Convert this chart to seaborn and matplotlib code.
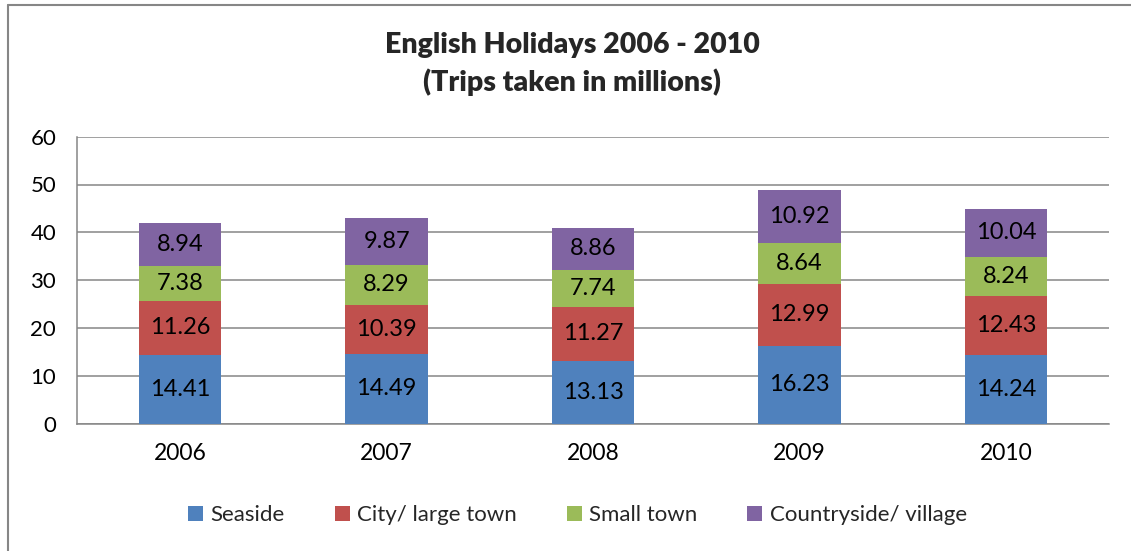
import numpy as np
import pandas as pd
import matplotlib
matplotlib.use("Agg")
import matplotlib.pyplot as plt
from matplotlib.lines import Line2D
import seaborn as sns

years = ["2006", "2007", "2008", "2009", "2010"]
series_names = ["Seaside", "City/ large town", "Small town", "Countryside/ village"]
seaside = [14.41, 14.49, 13.13, 16.23, 14.24]
city = [11.26, 10.39, 11.27, 12.99, 12.43]
small_town = [7.38, 8.29, 7.74, 8.64, 8.24]
countryside = [8.94, 9.87, 8.86, 10.92, 10.04]
colors = ["#4F81BD", "#C0504D", "#9BBB59", "#8064A2"]
y_ticks = [0, 10, 20, 30, 40, 50, 60]
title = "English Holidays 2006 - 2010\n(Trips taken in millions)"

sns.set_theme(style="white")
plt.rcParams["font.family"] = ["Lato", "DejaVu Sans"]

values = [seaside, city, small_town, countryside]
df = pd.DataFrame({"Year": years})
for name, v in zip(series_names, values):
    df[name] = v
cum = df[series_names].cumsum(axis=1)

fig = plt.figure(figsize=(11.31, 5.51), dpi=100)
W, H = 1131, 551
ax = fig.add_axes([77 / W, 1 - 423.5 / H, (1109 - 77) / W, (423.5 - 136.7) / H])

# draw cumulative totals from top series down so each visible segment is a stack part
for i in range(len(series_names) - 1, -1, -1):
    name = series_names[i]
    sns.barplot(data=cum.assign(Year=df["Year"]), x="Year", y=name, color=colors[i],
                width=0.4, saturation=1, ax=ax, zorder=3, linewidth=0)

# segment labels
for i, name in enumerate(series_names):
    for j in range(len(years)):
        top = cum[name].iloc[j]
        v = df[name].iloc[j]
        ax.text(j, top - v / 2, f"{v:.2f}", ha="center", va="center",
                fontsize=17, color="black", zorder=5)

ax.set_xlim(-0.5, len(years) - 0.5)
ax.set_ylim(0, 60)
ax.set_yticks(y_ticks)
ax.set_yticklabels([str(t) for t in y_ticks])
ax.set_xlabel("")
ax.set_ylabel("")
ax.grid(axis="y", color="#868686", linewidth=1.1, zorder=0)
ax.grid(axis="x", visible=False)
ax.set_axisbelow(True)
for s in ["top", "right"]:
    ax.spines[s].set_visible(False)
for s in ["left", "bottom"]:
    ax.spines[s].set_color("#868686")
    ax.spines[s].set_linewidth(1.1)
ax.set_xticks(np.arange(-0.5, len(years), 1.0), minor=True)
ax.tick_params(axis="x", which="major", length=0, pad=14, labelsize=16.5, colors="black")
ax.tick_params(axis="x", which="minor", length=7, width=1.1, color="#868686", direction="out")
ax.tick_params(axis="y", which="major", length=7, width=1.1, color="#868686", direction="out",
               pad=8, labelsize=16, labelcolor="black")

fig.text(572 / W, 1 - 64 / H, title, ha="center", va="center",
         fontsize=20.5, fontweight="heavy", linespacing=1.5)

handles = [Line2D([], [], linestyle="none", marker="s", markersize=10.8,
                  markerfacecolor=c, markeredgewidth=0, label=n)
           for c, n in zip(colors, series_names)]
fig.legend(handles=handles, loc="center", bbox_to_anchor=(577 / W, 1 - 515 / H), ncol=4,
           frameon=False, fontsize=16, handlelength=0.7,
           handletextpad=0.35, columnspacing=2.2)

# chart border (left and top visible in reference)
fig.add_artist(Line2D([8 / W, 8 / W], [0, 1 - 5 / H], transform=fig.transFigure, color="#868686", linewidth=1.5))
fig.add_artist(Line2D([8 / W, 1], [1 - 5 / H, 1 - 5 / H], transform=fig.transFigure, color="#868686", linewidth=1.5))

fig.savefig("out.png", dpi=100)
